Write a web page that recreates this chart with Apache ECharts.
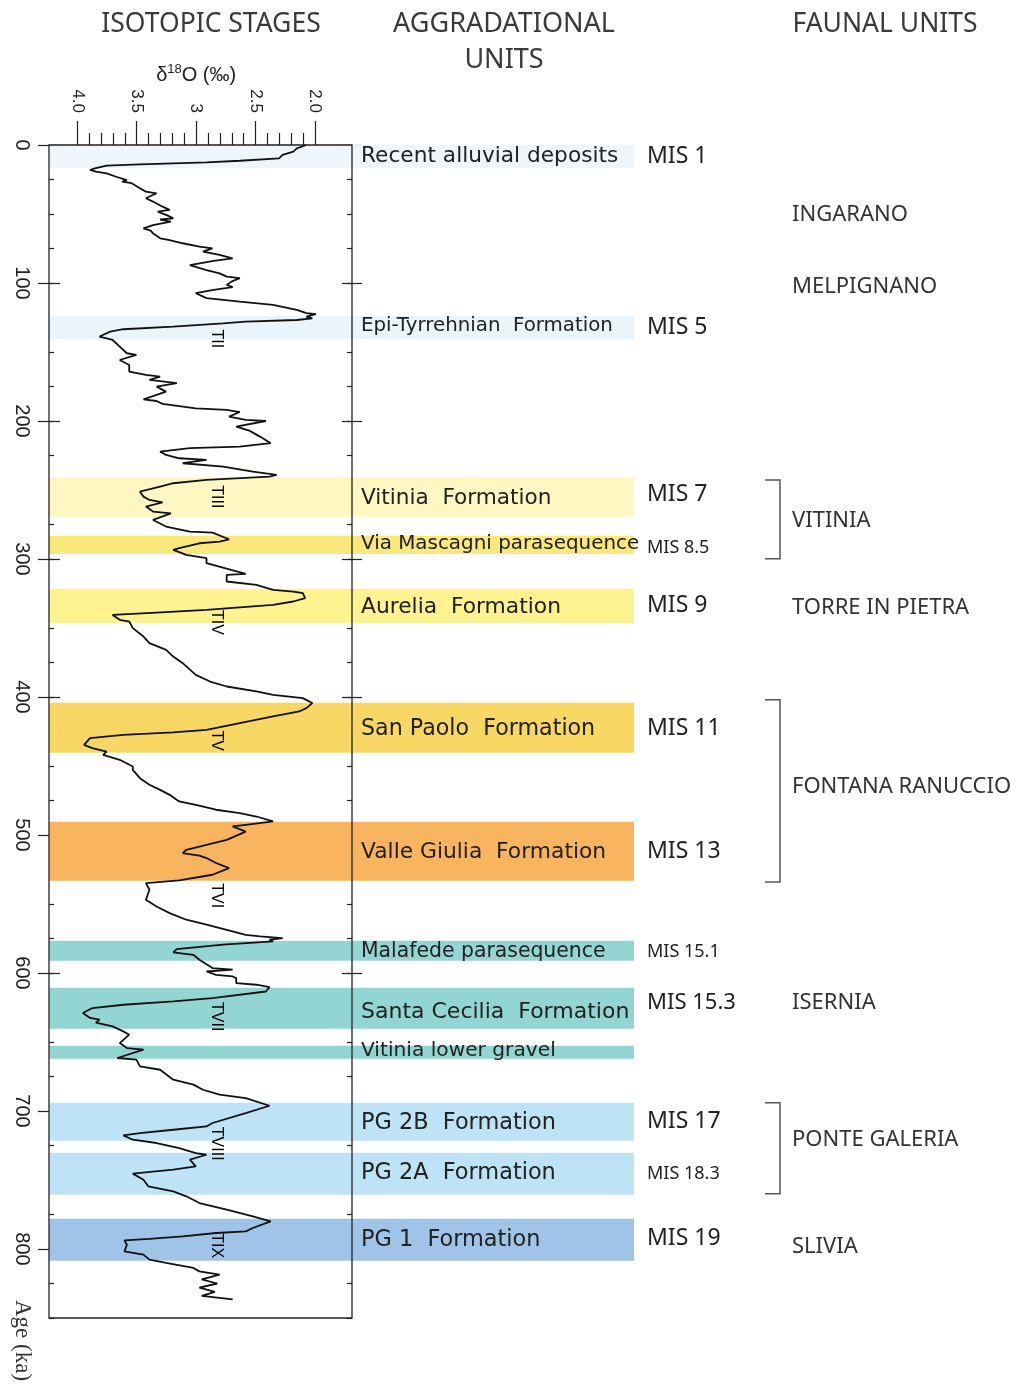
<!DOCTYPE html>
<html>

<head>
    <meta charset="utf-8" />
    <script src="https://cdn.jsdelivr.net/npm/echarts@6/dist/echarts.min.js"></script>
</head>

<body style="margin:0">
    <div id="main" style="width: 1027px;height:1385px;"></div>
    <script type="text/javascript">
        // age (ka) and d18O (permil)
        const ageKa = [0, 2.4, 4.8, 7.2, 9.7, 11.4, 12.6, 14, 15, 16.9, 18.1, 19.3, 20.5, 23, 25.4, 26.5, 27.7, 31.4, 33.8, 35,
            38.6, 41, 44.7, 47, 48.3, 51, 53.1, 54, 55.5, 58, 60.4, 62, 64, 67.6, 68.8, 71.2, 73.7, 74.9, 77.3, 79.7,
            82.1, 84, 87, 90.6, 93, 95.4, 96.5, 99, 101.4, 103, 105, 107.4, 111, 113.5, 115.9, 119.5, 121.9, 122.6, 124.4, 125.6,
            126.8, 128, 129.2, 131.6, 133.5, 135.2, 138.8, 141.3, 146.1, 150.9, 152.1, 155.8, 159.4, 164.2, 166.6, 167.8, 170.2, 172.6, 175.1, 178.7,
            184.3, 185.5, 187.6, 190.8, 192, 193.5, 196.8, 199.2, 200, 204.1, 207, 211.3, 216.1, 218.6, 219.7, 222.2, 224.6, 227, 228.2, 230.6,
            233, 236.7, 239.1, 240.3, 242.7, 245.1, 247.5, 251.2, 254.8, 257.2, 259, 262, 265.6, 267, 271.7, 276.5, 280.1, 280.9, 285.7, 287.4,
            288.6, 292.2, 293.4, 297, 299.4, 303, 310.8, 311.5, 316.3, 318.7, 322.4, 323.6, 324.8, 328.4, 330.8, 333.2, 336.9, 338.8, 340.5, 344.1,
            345.3, 350.1, 356.2, 361, 365.8, 370.7, 375.5, 384, 388.8, 392.4, 396, 398.4, 400.8, 404.4, 408.1, 410.5, 414.1, 418.9, 423.8, 425.7,
            427.4, 429.8, 434.7, 437.1, 439.5, 441.9, 445.5, 450.4, 452.8, 458.8, 463.6, 467.3, 470.9, 475.7, 478.1, 481.7, 484.2, 486.6, 490.2, 492.6,
            493.8, 497.5, 503.5, 507.1, 510.7, 513.1, 515, 516.7, 520.3, 524, 528.8, 532.9, 534.9, 539.7, 546.9, 551.8, 556.6, 561.4, 565, 568.7,
            572.3, 573.5, 574.7, 575.9, 577.1, 579.5, 582.7, 585.1, 586.8, 590.4, 596.4, 597.6, 598.9, 601.3, 602.5, 603.7, 607.3, 608.5, 610.2, 613.4,
            618.2, 620.6, 623, 625.4, 629, 632.6, 633.8, 636, 638.7, 642.3, 644.7, 650.8, 654.4, 655.6, 661.6, 662.8, 667.7, 670.1, 677.3, 680.9,
            684.6, 688.2, 690.6, 696.2, 701.5, 708.7, 711.2, 713.6, 716, 717.7, 720.8, 723.2, 726.9, 730.5, 731.7, 735.3, 740.1, 742.5, 745.4, 749.8,
            754.6, 758.2, 761.8, 766.7, 771.5, 776.3, 780, 784.8, 787.2, 788.4, 790.8, 792.7, 793.7, 796.9, 801.7, 804.1, 807.7, 810.1, 813.7, 816.2,
            818.6, 822, 825, 828, 831, 834, 836.5];
        const d18O = [2.07, 2.15, 2.18, 2.27, 2.30, 2.63, 2.91, 3.47, 3.75, 3.85, 3.89, 3.84, 3.75, 3.67, 3.58, 3.62, 3.54, 3.47, 3.42, 3.33,
            3.42, 3.36, 3.28, 3.22, 3.32, 3.24, 3.19, 3.30, 3.21, 3.36, 3.44, 3.38, 3.36, 3.30, 3.23, 3.11, 2.97, 2.86, 2.94, 2.80,
            2.69, 2.85, 3.05, 2.91, 2.80, 2.74, 2.63, 2.70, 2.74, 2.69, 2.85, 3.00, 2.91, 2.63, 2.35, 2.15, 2.07, 1.99, 2.07, 2.02,
            2.15, 2.58, 2.77, 3.19, 3.61, 3.72, 3.81, 3.70, 3.64, 3.58, 3.50, 3.64, 3.56, 3.56, 3.42, 3.30, 3.39, 3.16, 3.33, 3.25,
            3.44, 3.33, 3.28, 3.00, 2.74, 2.63, 2.72, 2.58, 2.41, 2.66, 2.55, 2.46, 2.37, 2.63, 3.05, 3.30, 3.25, 3.14, 2.91, 3.11,
            2.77, 2.52, 2.32, 2.38, 2.91, 3.19, 3.30, 3.47, 3.44, 3.39, 3.28, 3.42, 3.36, 3.21, 3.36, 3.25, 3.05, 2.86, 2.72, 2.80,
            2.97, 3.14, 3.19, 3.08, 2.91, 2.91, 2.58, 2.74, 2.74, 2.49, 2.35, 2.18, 2.10, 2.08, 2.18, 2.35, 2.91, 3.33, 3.70, 3.64,
            3.56, 3.53, 3.44, 3.39, 3.25, 3.19, 3.11, 3.00, 2.88, 2.74, 2.49, 2.35, 2.10, 2.02, 2.07, 2.13, 2.35, 2.63, 2.91, 3.19,
            3.61, 3.89, 3.94, 3.87, 3.75, 3.78, 3.64, 3.53, 3.53, 3.47, 3.39, 3.30, 3.22, 3.14, 3.00, 2.83, 2.63, 2.49, 2.35, 2.58,
            2.69, 2.58, 2.74, 2.91, 3.08, 3.11, 2.97, 2.91, 2.83, 2.72, 2.86, 3.14, 3.42, 3.39, 3.42, 3.33, 3.22, 3.08, 2.91, 2.74,
            2.58, 2.46, 2.27, 2.38, 2.35, 2.77, 3.16, 3.19, 3.02, 2.97, 2.86, 2.69, 2.91, 2.83, 2.69, 2.66, 2.66, 2.49, 2.38, 2.41,
            2.86, 3.19, 3.61, 3.87, 3.95, 3.89, 3.81, 3.84, 3.70, 3.61, 3.56, 3.64, 3.58, 3.44, 3.66, 3.50, 3.47, 3.30, 3.19, 3.02,
            2.94, 2.80, 2.58, 2.38, 2.58, 2.86, 2.91, 3.19, 3.47, 3.61, 3.53, 3.33, 3.14, 3.00, 2.91, 3.05, 3.00, 3.19, 3.53, 3.44,
            3.40, 3.19, 3.08, 2.97, 2.74, 2.52, 2.37, 2.52, 2.58, 2.83, 3.11, 3.39, 3.60, 3.58, 3.60, 3.44, 3.39, 3.25, 3.02, 2.97,
            2.80, 2.95, 2.82, 2.97, 2.84, 2.95, 2.69];

        // top axis ticks
        const xTickValues = [4, 3.5, 3, 2.5, 2];
        const xTickLabels = ['4.0', '3.5', '3', '2.5', '2.0'];
        const ageTicks = [0, 100, 200, 300, 400, 500, 600, 700, 800];

        // aggradational units (age range in ka)
        const unitNames = ['Recent alluvial deposits', 'Epi-Tyrrehnian  Formation', 'Vitinia  Formation', 'Via Mascagni parasequence',
            'Aurelia  Formation', 'San Paolo  Formation', 'Valle Giulia  Formation', 'Malafede parasequence', 'Santa Cecilia  Formation',
            'Vitinia lower gravel', 'PG 2B  Formation', 'PG 2A  Formation', 'PG 1  Formation'];
        const unitStart = [0, 124, 241, 283.2, 321.6, 404.2, 490.4, 576.6, 610.7, 652.7, 694, 730.2, 778];
        const unitEnd = [16.7, 140.5, 269.3, 296.3, 346.3, 440.4, 533.2, 591.1, 640.4, 662.1, 721.5, 760.6, 808.5];
        const misNames = ['MIS 1', 'MIS 5', 'MIS 7', 'MIS 8.5', 'MIS 9', 'MIS 11', 'MIS 13', 'MIS 15.1', 'MIS 15.3', '', 'MIS 17', 'MIS 18.3', 'MIS 19'];

        // faunal units
        const faunaNames = ['INGARANO', 'MELPIGNANO', 'VITINIA', 'TORRE IN PIETRA', 'FONTANA RANUCCIO', 'ISERNIA', 'PONTE GALERIA', 'SLIVIA'];
        const faunaAge = [50.7, 102.9, 272, 335, 465, 621.5, 721, 798];
        const bracketStart = [242.7, 402, 694];
        const bracketEnd = [299.9, 534, 760];

        // terminations
        const termNames = ['TII', 'TIII', 'TIV', 'TV', 'TVI', 'TVII', 'TVIII', 'TIX'];
        const termAge = [140.5, 255, 346, 431.7, 544, 631.7, 723.7, 797.6];

        // styling
        const bandColors = ['#eef6fc', '#eaf4fb', '#fff7c2', '#fbe87c', '#fff290', '#f9d765', '#f9b45f', '#93d5d2', '#93d5d2', '#93d5d2', '#bee3f6', '#bee3f6', '#a0c4e8'];
        const unitSizes = [21.7, 19.8, 21.6, 19.9, 21.8, 22.2, 21.8, 20.4, 22, 20.2, 22.4, 22.4, 22.4];
        const unitDy = [0, -2, 1, -1, 1, 1, 1, 1, 4, -1, 1, 0, 1];
        const misSizes = [23, 23, 23, 18, 23, 23, 23, 18, 22, 0, 23, 18, 23];
        const misDy = [0, 0, -3, 3, 0, 1, 0, 1, -6, 0, 0, 0, -1];
        const termX = 2.83;
        const bandRight = 585, unitX = 312, misX = 598, faunaX = 743, brL = 716, brR = 731;
        const sans = 'Liberation Sans';
        const wide = 'DejaVu Sans';
        const myriad = 'Noto Sans';

        const myChart = echarts.init(document.getElementById('main'), null, { renderer: 'canvas' });

        const ageRange = { min: 0, max: 850, inverse: true, type: 'value' };
        const tickStyle = { color: '#222', width: 1.2 };
        function ageAxis(pos, opts) {
            return Object.assign({
                gridIndex: 1, position: pos, axisLine: { show: false }, splitLine: { show: false },
                axisLabel: { show: false }
            }, ageRange, opts);
        }

        const option = {
            animation: false,
            backgroundColor: '#fff',
            grid: [
                { left: 49, top: 145, width: 978, height: 1173 },
                { left: 49, top: 145, width: 303, height: 1173, show: true, borderColor: '#222', borderWidth: 1.3, backgroundColor: 'rgba(0,0,0,0)', z: 5 },
                { left: 77.3, top: 145, width: 237.7, height: 1 }
            ],
            xAxis: [
                { gridIndex: 0, type: 'value', min: 0, max: 978, show: false },
                { gridIndex: 1, type: 'value', min: 1.686, max: 4.235, inverse: true, show: false },
                {
                    gridIndex: 2, type: 'value', position: 'top', min: 2, max: 4, inverse: true, interval: 0.5,
                    axisLine: { show: false }, splitLine: { show: false },
                    axisTick: { length: 25, lineStyle: tickStyle },
                    minorTick: { show: true, splitNumber: 5, length: 13, lineStyle: tickStyle },
                    axisLabel: {
                        rotate: -90, margin: 32, fontSize: 17, color: '#222', fontFamily: sans,
                        formatter: v => xTickLabels[xTickValues.indexOf(v)] || ''
                    },
                    name: '{a|δ}{b|18}{a|O (‰)}', nameLocation: 'middle', nameGap: 51,
                    nameTextStyle: {
                        rich: {
                            a: { fontSize: 20, fontFamily: sans, color: '#222' },
                            b: { fontSize: 13, fontFamily: sans, color: '#222', padding: [0, 0, 13, 0] }
                        }
                    }
                }
            ],
            yAxis: [
                Object.assign({ gridIndex: 0, show: false }, ageRange),
                ageAxis('left', {
                    axisTick: { length: 11, lineStyle: tickStyle, customValues: ageTicks },
                    axisLabel: { show: true, rotate: -90, margin: 17, fontSize: 20, color: '#222', fontFamily: sans, customValues: ageTicks }
                }),
                ageAxis('left', { axisTick: { inside: true, length: 11, lineStyle: tickStyle, customValues: ageTicks } }),
                ageAxis('left', { interval: 25, axisTick: { inside: true, length: 5, lineStyle: tickStyle } }),
                ageAxis('right', { axisTick: { length: 10, lineStyle: tickStyle, customValues: ageTicks } }),
                ageAxis('right', { axisTick: { inside: true, length: 10, lineStyle: tickStyle, customValues: ageTicks } }),
                ageAxis('right', { interval: 25, axisTick: { inside: true, length: 5, lineStyle: tickStyle } }),
                { gridIndex: 2, type: 'value', min: 0, max: 1, show: false }
            ],
            series: [
                {
                    // coloured bands + unit / MIS labels
                    type: 'custom', xAxisIndex: 0, yAxisIndex: 0, z: 1,
                    data: unitStart.map((s, i) => [s, unitEnd[i]]),
                    renderItem: function (params, api) {
                        const i = params.dataIndex;
                        const a = api.coord([0, api.value(0)]);
                        const b = api.coord([bandRight, api.value(1)]);
                        const x0 = api.coord([0, 0])[0];
                        const mid = (a[1] + b[1]) / 2;
                        return {
                            type: 'group',
                            children: [
                                { type: 'rect', shape: { x: a[0], y: a[1], width: b[0] - a[0], height: b[1] - a[1] }, style: { fill: bandColors[i] } },
                                { type: 'text', x: x0 + unitX, y: mid + unitDy[i], style: { text: unitNames[i], fontSize: unitSizes[i], fontFamily: wide, fill: '#222', align: 'left', verticalAlign: 'middle' } },
                                { type: 'text', x: x0 + misX, y: mid + misDy[i], style: { text: misNames[i], fontSize: misSizes[i] || 12, fontFamily: myriad, fill: '#222', align: 'left', verticalAlign: 'middle' } }
                            ]
                        };
                    }
                },
                {
                    type: 'custom', xAxisIndex: 0, yAxisIndex: 0, z: 1,
                    data: faunaAge.map((a, i) => [a]),
                    renderItem: function (params, api) {
                        const p = api.coord([faunaX, api.value(0)]);
                        return { type: 'text', x: p[0], y: p[1], style: { text: faunaNames[params.dataIndex], fontSize: 22, fontFamily: myriad, fill: '#333', align: 'left', verticalAlign: 'middle' } };
                    }
                },
                {
                    type: 'custom', xAxisIndex: 0, yAxisIndex: 0, z: 1,
                    data: bracketStart.map((s, i) => [s, bracketEnd[i]]),
                    renderItem: function (params, api) {
                        const a = api.coord([brL, api.value(0)]);
                        const b = api.coord([brR, api.value(1)]);
                        return {
                            type: 'polyline',
                            shape: { points: [[a[0], a[1]], [b[0], a[1]], [b[0], b[1]], [a[0], b[1]]] },
                            style: { stroke: '#555', lineWidth: 1.5, fill: null }
                        };
                    }
                },
                {
                    type: 'line', xAxisIndex: 1, yAxisIndex: 1, z: 3,
                    data: ageKa.map((a, i) => [d18O[i], a]),
                    showSymbol: false, symbol: 'none',
                    lineStyle: { color: '#111', width: 1.8 }
                },
                {
                    type: 'scatter', xAxisIndex: 1, yAxisIndex: 1, z: 4,
                    data: termAge.map((a, i) => [termX, a, termNames[i]]),
                    symbolSize: 1, itemStyle: { color: 'rgba(0,0,0,0)' },
                    label: {
                        show: true, position: 'inside', rotate: -90, formatter: p => p.value[2],
                        fontSize: 16, color: '#000', fontFamily: sans, textBorderWidth: 0, opacity: 1
                    }
                }
            ],
            graphic: [
                { type: 'text', x: 211, y: 24, style: { text: 'ISOTOPIC STAGES', fontSize: 26.5, fontFamily: myriad, fill: '#3a3a3a', align: 'center', verticalAlign: 'middle' } },
                { type: 'text', x: 504, y: 42, style: { text: 'AGGRADATIONAL\nUNITS', fontSize: 27, lineHeight: 36, fontFamily: myriad, fill: '#3a3a3a', align: 'center', verticalAlign: 'middle' } },
                { type: 'text', x: 885, y: 24, style: { text: 'FAUNAL UNITS', fontSize: 26.5, fontFamily: myriad, fill: '#3a3a3a', align: 'center', verticalAlign: 'middle' } },
                { type: 'text', x: 22, y: 1300, rotation: -Math.PI / 2, style: { text: 'Age (ka)', fontSize: 23, fontFamily: 'Liberation Serif', fill: '#333', align: 'left', verticalAlign: 'middle' } }
            ]
        };

        myChart.setOption(option);
        window.addEventListener('resize', myChart.resize);
    </script>
</body>

</html>
